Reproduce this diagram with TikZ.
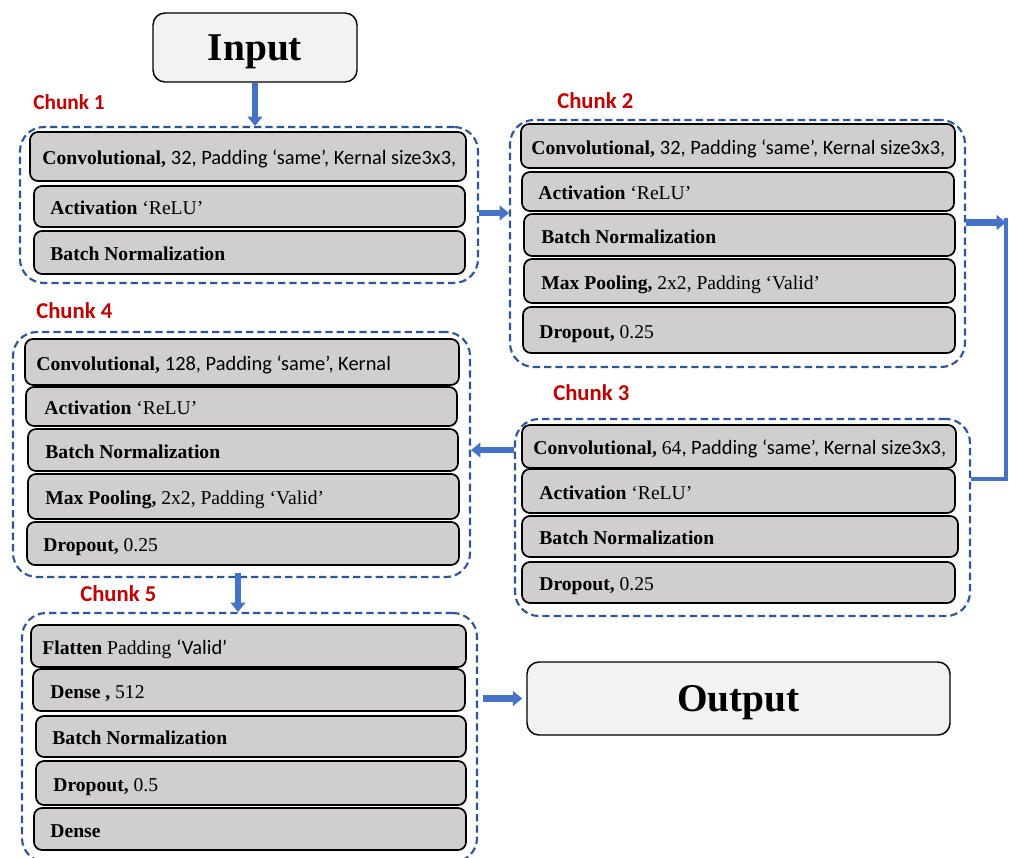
\documentclass[tikz,border=0pt]{standalone}
\usepackage{fontspec}
\setmainfont{Liberation Serif}
\newfontfamily\calibfam{Carlito}
\newcommand\calib{\calibfam\fontsize{15.3}{17}\selectfont}
\usetikzlibrary{arrows.meta,calc}
\definecolor{dashblue}{HTML}{2F5597}
\definecolor{arrblue}{HTML}{4472C4}
\definecolor{boxgray}{HTML}{D0CECE}
\definecolor{iogray}{HTML}{F2F2F2}
\definecolor{chunkred}{HTML}{C00000}
\tikzset{
  chunkbox/.style={draw=dashblue, line width=1.6pt, dash pattern=on 5.5pt off 3pt, rounded corners=18pt, inner sep=0pt},
  layerbox/.style={draw=black, line width=1.3pt, fill=boxgray, rounded corners=6pt, inner sep=0pt},
  layertext/.style={anchor=base west, inner sep=0pt, font=\fontsize{14.7}{17}\selectfont},
  iobox/.style={draw=black, line width=1.1pt, fill=iogray, rounded corners=9pt, inner sep=0pt, text depth=0pt, font=\fontsize{29.5}{34}\selectfont\bfseries},
  chunklabel/.style={anchor=base west, inner sep=0pt, text=chunkred, font=\calibfam\bfseries\fontsize{17}{20}\selectfont},
  blockarrow/.style={draw=arrblue, line width=4.8pt, -{Triangle[width=11pt,length=7pt]}},
  thinline/.style={draw=arrblue, line width=2.8pt},
}
\newcommand\chunkrect[5]{%
  \node[chunkbox, minimum width={(#4-#2)*0.75pt}, minimum height={(#5-#3)*0.75pt}] (#1) at ({(#2+#4)/2},{(#3+#5)/2}) {};}
\newcommand\layer[7]{%
  \node[layerbox, minimum width={(#4-#2)*0.75pt}, minimum height={(#5-#3)*0.75pt}] (#1) at ({(#2+#4)/2},{(#3+#5)/2}) {};
  \node[layertext] (#1t) at ([xshift={(#6-#2)*0.75pt}, yshift=-6pt]#1.west) {#7};}
\begin{document}
\begin{tikzpicture}[x=0.75pt, y=-0.75pt]
\useasboundingbox (0,0) rectangle (1009,857);
% containers
\chunkrect{c1}{20}{127}{478}{283}
\chunkrect{c2}{510}{120}{965}{367}
\chunkrect{c3}{515}{419}{970}{616}
\chunkrect{c4}{13}{332}{470}{577}
\chunkrect{c5}{22}{613}{477}{862}
% labels
\node[chunklabel, font=\calibfam\bfseries\fontsize{16}{19}\selectfont] (k1) at (33,109) {Chunk 1};
\node[chunklabel] (k2) at (557,108) {Chunk 2};
\node[chunklabel] (k3) at (553,400) {Chunk 3};
\node[chunklabel] (k4) at (36,318) {Chunk 4};
\node[chunklabel] (k5) at (80,601) {Chunk 5};
% input / output
\node[iobox, minimum width={204*0.75pt}, minimum height={69*0.75pt}] (in) at (255,47.5) {Input};
\node[iobox, minimum width={423*0.75pt}, minimum height={73*0.75pt}] (out) at (738.5,698.5) {Output};
% chunk 1
\layer{la}{30}{132}{466}{181}{43}{\textbf{Convolutional,} {\calib 32, Padding ‘same’, Kernal size3x3,}}
\layer{lb}{34}{186}{465}{227}{51}{\textbf{Activation} ‘ReLU’}
\layer{lc}{34}{231}{465}{274}{51}{\textbf{Batch Normalization}}
% chunk 2
\layer{ld}{521}{124}{955}{168}{532}{\textbf{Convolutional,} {\calib 32, Padding ‘same’, Kernal size3x3,}}
\layer{le}{522}{172}{954}{211}{539}{\textbf{Activation} ‘ReLU’}
\layer{lf}{524}{214}{955}{256}{542}{\textbf{Batch Normalization}}
\layer{lg}{524}{259}{955}{303}{542}{\textbf{Max Pooling,} 2x2, Padding ‘Valid’}
\layer{lh}{523}{307}{955}{353}{540}{\textbf{Dropout,} 0.25}
% chunk 3
\layer{li}{522}{425}{956}{468}{534}{\textbf{Convolutional,} 64{\calib, Padding ‘same’, Kernal size3x3,}}
\layer{lj}{522}{469}{955}{513}{540}{\textbf{Activation} ‘ReLU’}
\layer{lk}{522}{516}{958}{557}{540}{\textbf{Batch Normalization}}
\layer{ll}{522}{562}{955}{603}{540}{\textbf{Dropout,} 0.25}
% chunk 4
\layer{lm}{25}{339}{459}{385}{37}{\textbf{Convolutional,} {\calib 128, Padding ‘same’, Kernal}}
\layer{ln}{26}{387}{457}{426}{45}{\textbf{Activation} ‘ReLU’}
\layer{lo}{28}{429}{458}{471}{46}{\textbf{Batch Normalization}}
\layer{lp}{28}{474}{459}{519}{46}{\textbf{Max Pooling,} 2x2, Padding ‘Valid’}
\layer{lq}{27}{522}{459}{565}{44}{\textbf{Dropout,} 0.25}
% chunk 5
\layer{lr}{31}{625}{466}{667}{43}{\textbf{Flatten} Padding {\calib ‘Valid’}}
\layer{ls}{33}{669}{465}{711}{51}{\textbf{Dense ,} 512}
\layer{lt}{36}{716}{466}{757}{53}{\textbf{Batch Normalization}}
\layer{lu}{36}{761}{466}{805}{54}{\textbf{Dropout,} 0.5}
\layer{lv}{34}{808}{466}{850}{51}{\textbf{Dense}}
% connectors
\draw[blockarrow] (in.south) -- (in.south |- c1.north);
\coordinate (a12) at ($(c1.east)+(0,8)$);
\draw[blockarrow] (a12) -- (a12 -| c2.west);
\coordinate (a2s) at ($(c2.east)+(0,-21)$);
\coordinate (bx) at (1006,0);
\coordinate (bendA) at (a2s -| bx);
\coordinate (bendT) at (1006,218);
\coordinate (bendB) at (1006,479);
\draw[blockarrow] (a2s) -- (bendA);
\draw[thinline] (bendT) -- (bendB) -- (bendB -| c3.east);
\coordinate (a34) at ($(c3.west)+(0,-67.5)$);
\draw[blockarrow] (a34) -- (a34 -| c4.east);
\coordinate (a45) at ($(c4.south)+(-3.5,-5)$);
\draw[blockarrow] (a45) -- (a45 |- c5.north);
\coordinate (a5o) at ($(c5.east |- out.west)+(5,0)$);
\draw[blockarrow] (a5o) -- ($(out.west)+(-4,0)$);
\end{tikzpicture}
\end{document}
